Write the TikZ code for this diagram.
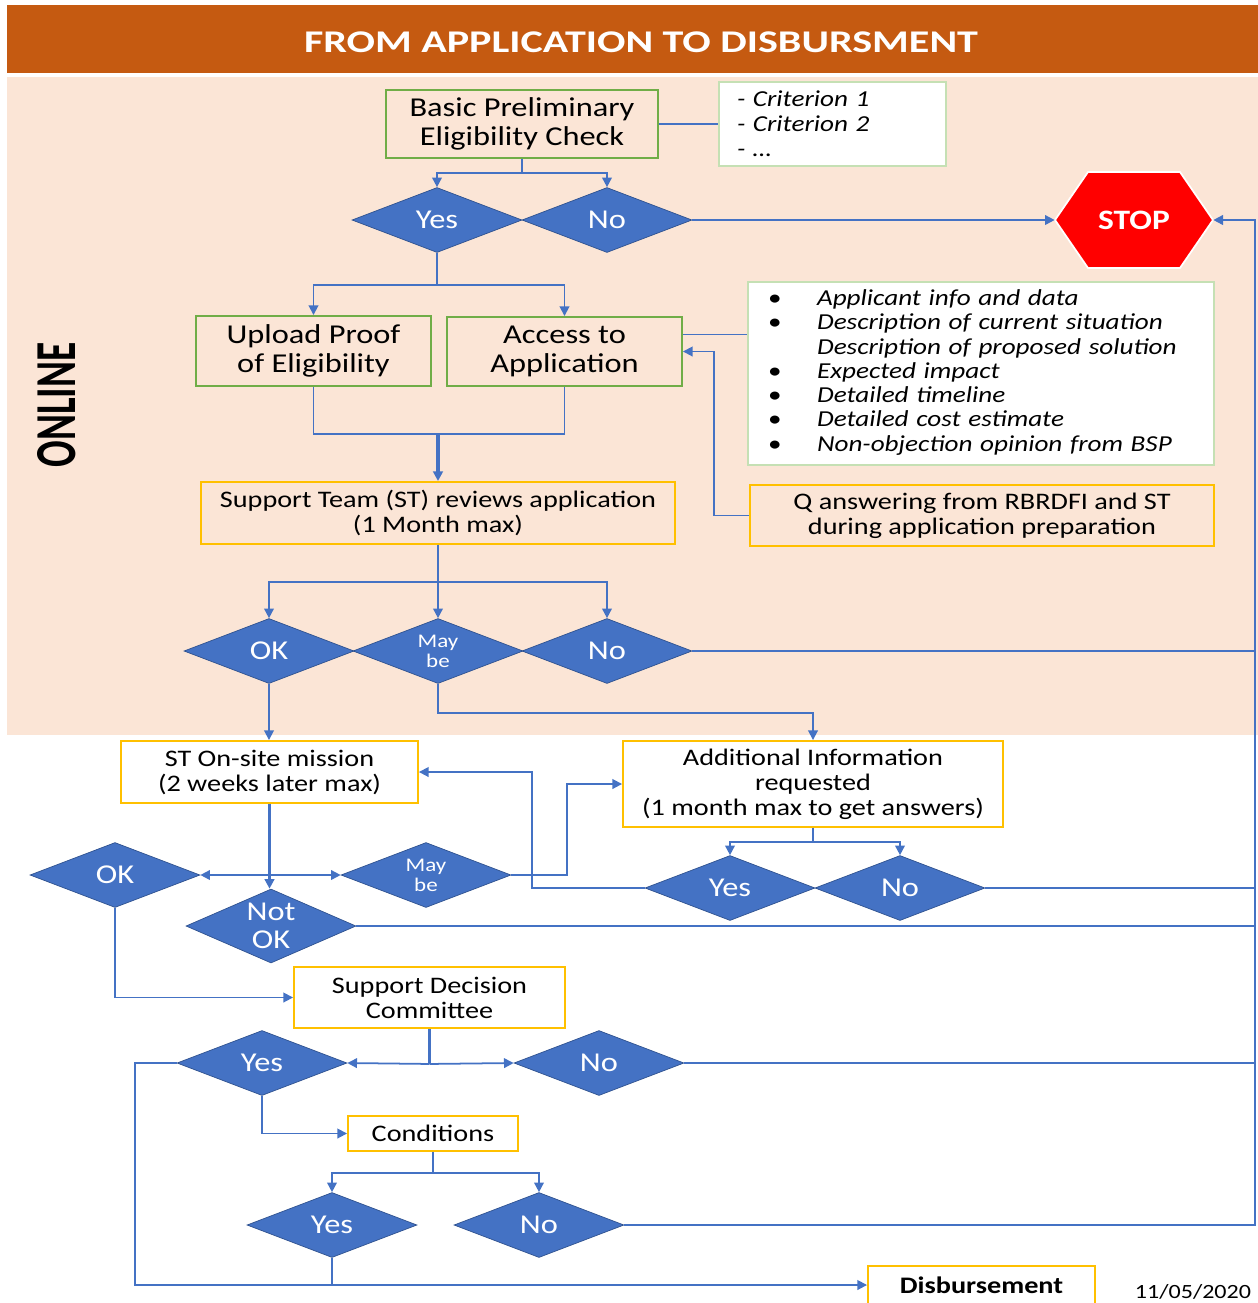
\documentclass[tikz,border=0pt]{standalone}
\usepackage{fontspec}
\setmainfont{Carlito}[FakeStretch=1.19]
\newfontfamily\onlinefont{Carlito}[FakeStretch=0.68]
\newfontfamily\hdrfont{Carlito}[FakeStretch=1.33]
\usetikzlibrary{shapes.geometric, arrows.meta, positioning, calc}

\definecolor{hdrorange}{HTML}{C55A11}
\definecolor{peach}{HTML}{FBE5D6}
\definecolor{flowblue}{HTML}{4472C4}
\definecolor{diaedge}{HTML}{2F528F}
\definecolor{boxgreen}{HTML}{70AD47}
\definecolor{notegreen}{HTML}{C5E0B4}
\definecolor{boxyellow}{HTML}{FFC000}
\definecolor{stopred}{HTML}{FF0000}

\tikzset{
  flow/.style={draw=flowblue, line width=1pt},
  arr/.style={flow, -{Triangle[length=5.5pt, width=5.5pt]}},
  greenbox/.style={draw=boxgreen, line width=1.1pt, align=center, inner sep=0pt,
    font=\fontsize{15.5}{16.5}\selectfont},
  notebox/.style={draw=notegreen, fill=white, line width=1.1pt, inner ysep=0pt},
  yellowbox/.style={draw=boxyellow, line width=1.1pt, align=center, inner sep=0pt,
    font=\fontsize{13.5}{14.2}\selectfont},
  dec/.style={diamond, aspect=2.6, fill=flowblue, draw=diaedge, line width=0.4pt,
    text=white, align=center, inner sep=0pt, minimum width=3.4cm, minimum height=1.3cm,
    font=\fontsize{15.5}{16}\selectfont},
  smalldec/.style={dec, font=\fontsize{11}{11.5}\selectfont},
}

\begin{document}
\begin{tikzpicture}[x=0.02cm, y=-0.02cm]
    \useasboundingbox (0,0) rectangle (1258,1303);

    % Title band and online zone
    \fill[hdrorange] (7,5) rectangle (1258,73);
    \node[text=white, font=\hdrfont\bfseries\fontsize{18}{20}\selectfont] (title) at (641,42) {FROM APPLICATION TO DISBURSMENT};
    \fill[peach] (7,77) rectangle (1258,735);
    \node[rotate=90, font=\onlinefont\bfseries\fontsize{33}{35}\selectfont] (online) at (57,405) {ONLINE};

    % Eligibility check
    \node[greenbox, minimum width=5.44cm, minimum height=1.36cm] (basic) at (522,124) {Basic Preliminary\\Eligibility Check};
    \node[notebox, text width=3.82cm, inner xsep=0.36cm, minimum height=1.68cm, align=left,
      font=\itshape\fontsize{13}{14.2}\selectfont] (crit) at (832.5,124) {- Criterion 1\\- Criterion 2\\- \ldots};
    \node[dec] (yes1) at (437,220) {Yes};
    \node[dec] (no1) at (607,220) {No};

    % Stop sign
    \fill[stopred, draw=white, line width=1pt] (1055,220) -- (1088,172) -- (1180,172) -- (1213,220) -- (1180,268) -- (1088,268) -- cycle;
    \node[minimum width=3.16cm, minimum height=1.92cm, inner sep=0pt, text=white,
      font=\bfseries\fontsize{16}{18}\selectfont] (stop) at (1134,220) {STOP};

    % Application
    \node[greenbox, minimum width=4.7cm, minimum height=1.4cm] (upload) at (313.5,351) {Upload Proof\\of Eligibility};
    \node[greenbox, minimum width=4.7cm, minimum height=1.38cm] (access) at (564.5,351.5) {Access to\\Application};
    \node[notebox, minimum width=9.32cm, minimum height=3.66cm, text width=8.52cm, inner xsep=0.4cm, align=left,
      font=\fontsize{13}{13.8}\selectfont] (list) at (981,373.5) {%
      \begin{tabular}{@{}p{0.98cm}@{}l@{}}
        \textbullet & \itshape Applicant info and data\\
        \textbullet & \itshape Description of current situation\\
                    & \itshape Description of proposed solution\\
        \textbullet & \itshape Expected impact\\
        \textbullet & \itshape Detailed timeline\\
        \textbullet & \itshape Detailed cost estimate\\
        \textbullet & \itshape Non-objection opinion from BSP
      \end{tabular}};
    \node[yellowbox, minimum width=9.28cm, minimum height=1.22cm] (qbox) at (982,515.5) {Q answering from RBRDFI and ST\\during application preparation};
    \node[yellowbox, minimum width=9.48cm, minimum height=1.24cm] (review) at (438,513) {Support Team (ST) reviews application\\(1 Month max)};

    % Review outcomes
    \node[dec] (ok1) at (269,651) {OK};
    \node[smalldec] (maybe1) at (438,651) {May\\be};
    \node[dec] (no2) at (607,651) {No};

    % On-site mission and additional information
    \node[yellowbox, fill=white, minimum width=5.94cm, minimum height=1.24cm] (onsite) at (269.5,772) {ST On-site mission\\(2 weeks later max)};
    \node[yellowbox, fill=white, minimum width=7.6cm, minimum height=1.72cm] (addinfo) at (813,784) {Additional Information\\requested\\(1 month max to get answers)};
    \node[dec] (ok2) at (115,875) {OK};
    \node[smalldec] (maybe2) at (426,875) {May\\be};
    \node[dec, minimum height=1.48cm] (notok) at (271,926) {Not\\OK};
    \node[dec] (yes3) at (730,888) {Yes};
    \node[dec] (no3) at (900,888) {No};

    % Committee
    \node[yellowbox, fill=white, minimum width=5.42cm, minimum height=1.22cm] (sdc) at (429.5,997.5) {Support Decision\\Committee};
    \node[dec] (yes4) at (262,1063) {Yes};
    \node[dec] (no4) at (599,1063) {No};
    \node[yellowbox, fill=white, minimum width=3.4cm, minimum height=0.7cm] (cond) at (433,1133.5) {Conditions};
    \node[dec] (yes5) at (332,1225) {Yes};
    \node[dec] (no5) at (539,1225) {No};
    \node[yellowbox, fill=white, minimum width=4.54cm, minimum height=0.76cm, font=\bfseries\fontsize{13.5}{15}\selectfont] (disb) at (981.5,1285) {Disbursement};
    \node[font=\fontsize{11.5}{13}\selectfont] (date) at (1193,1292) {11/05/2020};

    % Connectors
    \coordinate (rail) at (1255,220);
    \draw[flow] (basic.east) -- (crit.west);
    \draw[arr] (basic.south) -- ++(0,14) -| (yes1.north);
    \draw[arr] (basic.south) -- ++(0,14) -| (no1.north);
    \draw[arr] (no1.east) -- (stop.west);
    \draw[arr] (yes1.south) -- ++(0,32) -| (upload.north);
    \draw[arr] (yes1.south) -- ++(0,32) -| (access.north);
    \draw[flow] ([yshift=0.34cm]access.east) coordinate (acc) -- (acc -| list.west);
    \draw[arr] (qbox.west) -- ++(-35,0) |- (access.east);
    \coordinate (merge) at (438,434);
    \draw[flow] (upload.south) |- (merge) -| (access.south);
    \draw[arr, line width=1.8pt] (merge) -- (review.north);

    \draw[arr] (review.south) -- ++(0,37) -| (ok1.north);
    \draw[arr] (review.south) -- ++(0,37) -| (maybe1.north);
    \draw[arr] (review.south) -- ++(0,37) -| (no2.north);
    \draw[flow] (no2.east) -- (no2.east -| rail);
    \draw[arr] (ok1.south) -- (ok1.south |- onsite.north);
    \draw[arr] (maybe1.south) -- ++(0,29) -| (addinfo.north);

    \draw[arr, line width=1.8pt] (onsite.south) -- (onsite.south |- notok.north);
    \coordinate (split) at (onsite.south |- ok2.east);
    \draw[arr] (split) -- (ok2.east);
    \draw[arr] (split) -- (maybe2.west);
    \draw[arr] (maybe2.east) -- ++(56,0) |- (addinfo.west);
    \draw[arr] (addinfo.south) -- ++(0,14) -| (yes3.north);
    \draw[arr] (addinfo.south) -- ++(0,14) -| (no3.north);
    \draw[arr] (yes3.west) -- ++(-113,0) |- (onsite.east);
    \draw[flow] (no3.east) -- (no3.east -| rail);
    \draw[flow] (notok.east) -- (notok.east -| rail);

    \draw[arr] (ok2.south) |- (sdc.west);
    \draw[flow, line width=1.8pt] (sdc.south) -- ++(0,35) coordinate (sdcsplit);
    \draw[arr] (sdcsplit) -- (yes4.east);
    \draw[arr] (sdcsplit) -- (no4.west);
    \draw[flow] (no4.east) -- (no4.east -| rail);
    \draw[arr] (yes4.south) |- (cond.west);
    \draw[arr] (yes4.west) -- ++(-42,0) |- (disb.west);
    \draw[arr] (cond.south) -- ++(0,21) -| (yes5.north);
    \draw[arr] (cond.south) -- ++(0,21) -| (no5.north);
    \draw[flow] (yes5.south) -- (yes5.south |- disb.west);
    \draw[arr] (no5.east) -- (no5.east -| rail) -- (rail) -- (stop.east);
\end{tikzpicture}
\end{document}
